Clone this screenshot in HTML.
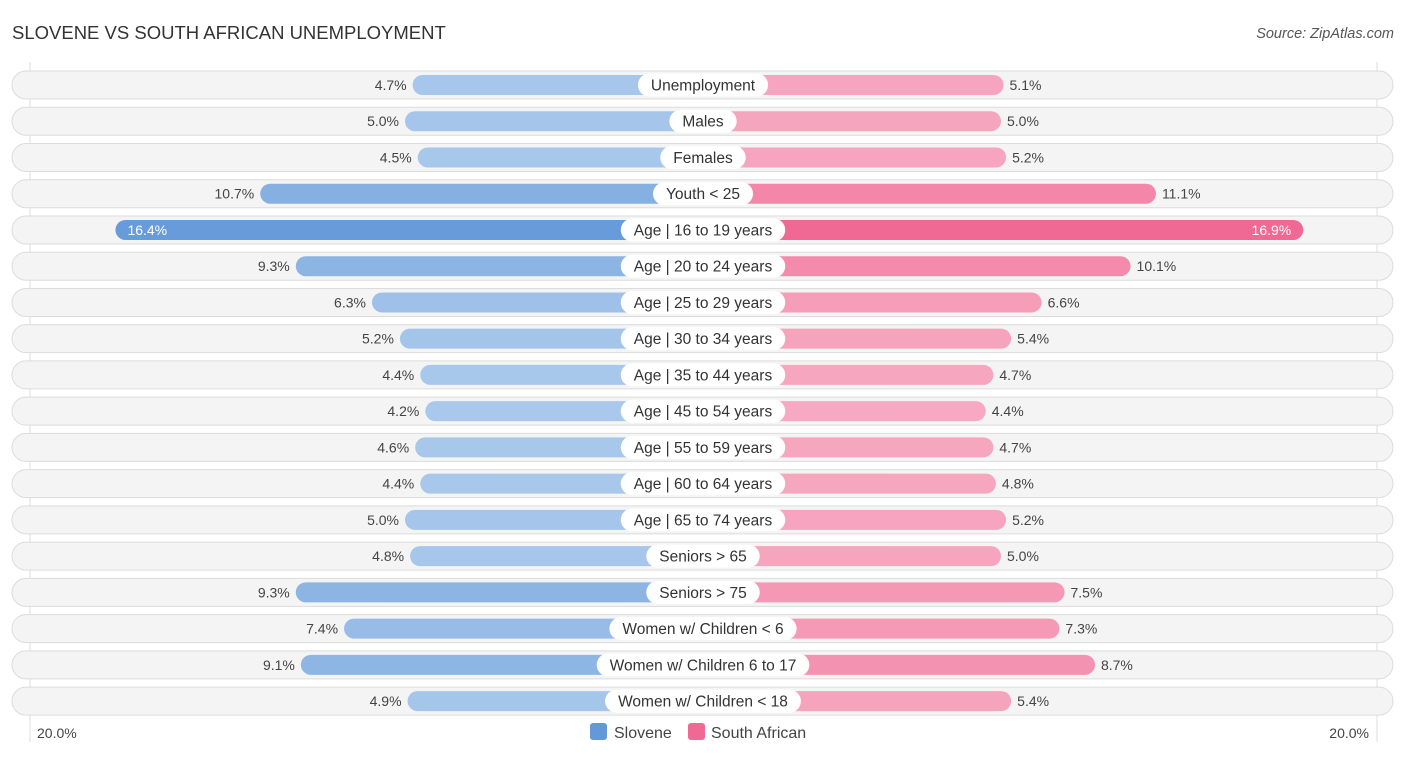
<!DOCTYPE html>
<html><head><meta charset="utf-8"><style>
body{margin:0;background:#fff;font-family:"Liberation Sans",sans-serif;}
svg{display:block}
</style></head><body>
<svg id="c" width="1406" height="757" xmlns="http://www.w3.org/2000/svg">
<text x="12" y="39" font-size="18.5" fill="#333">SLOVENE VS SOUTH AFRICAN UNEMPLOYMENT</text>
<text x="1394" y="38" font-size="14.5" fill="#555" font-style="italic" text-anchor="end">Source: ZipAtlas.com</text>
<line x1="30" y1="62" x2="30" y2="742" stroke="#ddd"/>
<line x1="1377" y1="62" x2="1377" y2="742" stroke="#ddd"/>
<g id="rows"></g>
<text x="37" y="738" font-size="14" fill="#444">20.0%</text>
<text x="1369" y="738" font-size="14" fill="#444" text-anchor="end">20.0%</text>
<g>
<rect x="590" y="723" width="17" height="17" rx="3" fill="#6499d9"/>
<text x="614" y="738" font-size="16" fill="#444">Slovene</text>
<rect x="688" y="723" width="17" height="17" rx="3" fill="#f06894"/>
<text x="711" y="738" font-size="16" fill="#444">South African</text>
</g>
</svg>
<script>
const categories=["Unemployment","Males","Females","Youth < 25","Age | 16 to 19 years","Age | 20 to 24 years","Age | 25 to 29 years","Age | 30 to 34 years","Age | 35 to 44 years","Age | 45 to 54 years","Age | 55 to 59 years","Age | 60 to 64 years","Age | 65 to 74 years","Seniors > 65","Seniors > 75","Women w/ Children < 6","Women w/ Children 6 to 17","Women w/ Children < 18"];
const slovene=[4.7,5.0,4.5,10.7,16.4,9.3,6.3,5.2,4.4,4.2,4.6,4.4,5.0,4.8,9.3,7.4,9.1,4.9];
const southAfrican=[5.1,5.0,5.2,11.1,16.9,10.1,6.6,5.4,4.7,4.4,4.7,4.8,5.2,5.0,7.5,7.3,8.7,5.4];
const NS="http://www.w3.org/2000/svg";
const cx=703, base=171, k=25.4;
function len(v){return base+k*v;}
function rowY(i){return 85+i*36.24;}
function mix(a,b,t){const p=s=>[1,3,5].map(j=>parseInt(s.substr(j,2),16));const A=p(a),B=p(b);return "rgb("+A.map((x,j)=>Math.round(x+(B[j]-x)*t)).join(",")+")";}
const maxV=Math.max(...slovene,...southAfrican);
const g=document.getElementById('rows');
function el(tag,attrs,parent){const e=document.createElementNS(NS,tag);for(const a in attrs)e.setAttribute(a,attrs[a]);parent.appendChild(e);return e;}
categories.forEach((c,i)=>{
  const y=rowY(i);
  const row=el('g',{},g);
  
  
  const bg=el('rect',{x:12,y:y-14,width:1381,height:28,rx:14,fill:"#f4f4f4",stroke:"#dcdcdc","stroke-width":1},row);
  
  
  const sv=slovene[i], av=southAfrican[i];
  const ts=Math.max(0,(sv-4)/(maxV-4)), ta=Math.max(0,(av-4)/(maxV-4));
  const ls=len(sv), la=len(av);
  const b1=el('rect',{x:cx-ls,y:y-10,width:ls,height:20,rx:10,fill:mix("#aac9ec","#6499d9",ts)},row);
  
  
  const b2=el('rect',{x:cx,y:y-10,width:la,height:20,rx:10,fill:mix("#f7aac3","#f06894",ta)},row);
  
  
  const inside=sv>15;
  const t1=el('text',{x:inside?cx-ls+12:cx-ls-6,y:y+5,"font-size":14,fill:inside?"#fff":"#444","text-anchor":inside?"start":"end"},row);
  t1.textContent=sv.toFixed(1)+"%";
  
  
  const in2=av>15;
  const t2=el('text',{x:in2?cx+la-12:cx+la+6,y:y+5,"font-size":14,fill:in2?"#fff":"#444","text-anchor":in2?"end":"start"},row);
  t2.textContent=av.toFixed(1)+"%";
  
  
  const lab=el('text',{x:cx,y:y+5.5,"font-size":15.5,fill:"#333","text-anchor":"middle"},row);
  lab.textContent=c;
  
  
  const w=lab.getComputedTextLength()+26;
  const pill=el('rect',{x:cx-w/2,y:y-11.5,width:w,height:23,rx:11.5,fill:"#fff"},row);
  
  
  row.insertBefore(pill,lab);
});
</script>
</body></html>
